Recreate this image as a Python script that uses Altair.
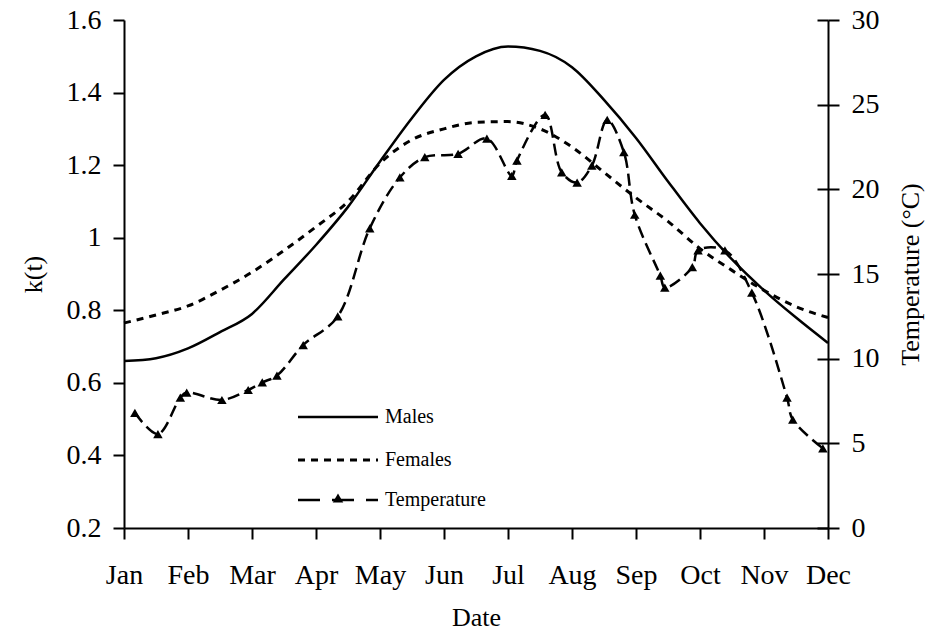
import altair as alt
import pandas as pd

FONT = "Liberation Serif"

month_names = ["Jan", "Feb", "Mar", "Apr", "May", "Jun", "Jul", "Aug", "Sep", "Oct", "Nov", "Dec"]

curve_month = [1, 1.5, 2, 2.5, 3, 3.5, 4, 4.5, 5, 5.5, 6, 6.5, 7, 7.5, 8, 8.5, 9, 9.5, 10, 10.5, 11, 11.5, 12]
males_k = [0.66, 0.668, 0.695, 0.74, 0.79, 0.885, 0.98, 1.085, 1.21, 1.33, 1.435, 1.50, 1.527, 1.515, 1.47,
           1.38, 1.275, 1.155, 1.04, 0.94, 0.855, 0.78, 0.71]
females_k = [0.765, 0.787, 0.812, 0.855, 0.905, 0.965, 1.03, 1.10, 1.205, 1.27, 1.30, 1.318, 1.32, 1.30, 1.25,
             1.18, 1.11, 1.045, 0.97, 0.91, 0.855, 0.81, 0.78]

temp_month = [1.17, 1.53, 1.88, 1.98, 2.53, 2.94, 3.16, 3.39, 3.80, 4.34, 4.84, 5.31, 5.70, 6.22, 6.67,
              7.06, 7.14, 7.58, 7.84, 8.08, 8.31, 8.55, 8.81, 8.98, 9.38, 9.45, 9.88, 9.97, 10.39, 10.81,
              11.36, 11.45, 11.92]
temp_c = [6.8, 5.55, 7.7, 8.0, 7.56, 8.15, 8.6, 9.0, 10.8, 12.5, 17.7, 20.7, 21.9, 22.1, 23.0,
          20.8, 21.7, 24.4, 21.0, 20.4, 21.4, 24.1, 22.2, 18.5, 14.9, 14.2, 15.4, 16.4, 16.4, 13.9,
          7.7, 6.4, 4.7]

legend_labels = ["Males", "Females", "Temperature"]

curves = pd.DataFrame({"month": curve_month, "Males": males_k, "Females": females_k})
temp = pd.DataFrame({"month": temp_month, "temp": temp_c})

month_expr = "[" + ",".join("'%s'" % m for m in month_names) + "][round(datum.value) - 1]"

x_enc = alt.X(
    "month:Q",
    scale=alt.Scale(domain=[1, 12], nice=False, zero=False),
    axis=alt.Axis(values=list(range(1, 13)), labelExpr=month_expr, title="Date",
                  labelPadding=22, titlePadding=15, labelFlush=False, labelOverlap=False),
)

k_scale = alt.Scale(domain=[0.2, 1.6], nice=False, zero=False)
t_scale = alt.Scale(domain=[0, 30], nice=False, zero=False)
t_values = [0, 5, 10, 15, 20, 25, 30]

k_axis = alt.Axis(orient="left", values=[0.2, 0.4, 0.6, 0.8, 1.0, 1.2, 1.4, 1.6],
                  labelExpr="toString(round(datum.value*10)/10)",
                  title="k(t)", labelPadding=12,
                  titleAngle=-90, titleX=-91, titleY=254, titleAlign="center", titleBaseline="middle")
t_axis = alt.Axis(orient="right", values=t_values,
                  title="Temperature (°C)", labelPadding=12,
                  titleAngle=-90, titleX=82, titleY=254, titleAlign="center", titleBaseline="middle")
# inner half of the right-hand ticks (they cross the axis line in the reference)
t_inner_axis = alt.Axis(orient="right", values=t_values, offset=-11, labels=False, domain=False,
                        title=None, tickSize=11)

males = alt.Chart(curves).mark_line(color="black", strokeWidth=2.5, interpolate="monotone").encode(
    x=x_enc,
    y=alt.Y("Males:Q", scale=k_scale, axis=k_axis),
)
females = alt.Chart(curves).mark_line(color="black", strokeWidth=3, strokeDash=[7, 6],
                                      interpolate="monotone").encode(
    x=x_enc,
    y=alt.Y("Females:Q", scale=k_scale, axis=k_axis),
)

temp_line = alt.Chart(temp).mark_line(color="black", strokeWidth=2.5, strokeDash=[12, 6],
                                      interpolate="catmull-rom").encode(
    x=x_enc,
    y=alt.Y("temp:Q", scale=t_scale, axis=t_axis),
)
temp_pts = alt.Chart(temp).mark_point(shape="triangle-up", filled=True, color="black", opacity=1,
                                      size=90).encode(
    x=x_enc,
    y=alt.Y("temp:Q", scale=t_scale, axis=t_axis),
)
inner_ticks = alt.Chart(temp).mark_point(opacity=0).encode(
    x=x_enc,
    y=alt.Y("temp:Q", scale=t_scale, axis=t_inner_axis),
)

leg = pd.DataFrame({"label": legend_labels})
# legend (pixel positions in plot area)
leg_x0, leg_x1, leg_tx = 174, 254, 261
leg_y = [397, 440, 480]


def leg_row(name):
    return alt.Chart(leg).transform_filter("datum.label == '%s'" % name)


leg_males = leg_row("Males").mark_rule(color="black", strokeWidth=2.5).encode(
    x=alt.value(leg_x0), x2=alt.value(leg_x1), y=alt.value(leg_y[0]))
leg_fem = leg_row("Females").mark_rule(color="black", strokeWidth=3, strokeDash=[7, 6]).encode(
    x=alt.value(leg_x0), x2=alt.value(leg_x1), y=alt.value(leg_y[1]))
leg_temp = leg_row("Temperature").mark_rule(color="black", strokeWidth=2.5, strokeDash=[22, 12]).encode(
    x=alt.value(leg_x0), x2=alt.value(leg_x1), y=alt.value(leg_y[2]))
leg_tri = leg_row("Temperature").mark_point(shape="triangle-up", filled=True, color="black", opacity=1,
                                            size=110).encode(
    x=alt.value((leg_x0 + leg_x1) / 2), y=alt.value(leg_y[2] - 2))

leg_texts = [
    leg_row(name).mark_text(font=FONT, fontSize=20, align="left", baseline="middle", color="black").encode(
        x=alt.value(leg_tx), y=alt.value(yy), text="label:N")
    for name, yy in zip(legend_labels, leg_y)
]

left = alt.layer(males, females, leg_males, leg_fem, leg_temp, leg_tri, *leg_texts)
right = alt.layer(temp_line, temp_pts)

chart = alt.layer(left, right, inner_ticks).resolve_scale(
    y="independent"
).properties(
    width=704, height=508,
    autosize=alt.AutoSizeParams(type="none"),
    padding={"left": 116, "top": 12, "right": 98, "bottom": 105},
    background="white",
).configure_view(stroke=None).configure_axis(
    domainColor="black", domainWidth=2, tickColor="black", tickWidth=2, tickSize=11,
    labelFont=FONT, labelFontSize=28, labelColor="black",
    titleFont=FONT, titleFontSize=26, titleFontWeight="normal", titleColor="black",
    grid=False,
)

chart.save("out.html", embed_options={"renderer": "svg", "actions": False})
